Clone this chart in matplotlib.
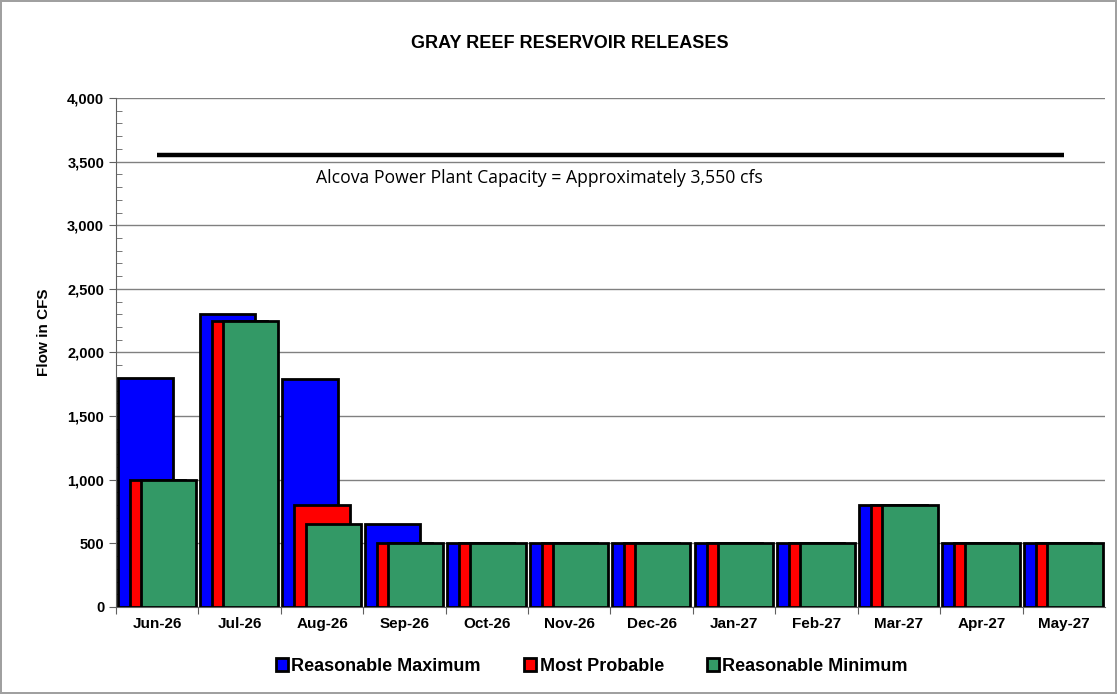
import numpy as np
import matplotlib
matplotlib.use("Agg")
import matplotlib.pyplot as plt
from matplotlib.ticker import MultipleLocator, FuncFormatter

months = ["Jun-26", "Jul-26", "Aug-26", "Sep-26", "Oct-26", "Nov-26",
          "Dec-26", "Jan-27", "Feb-27", "Mar-27", "Apr-27", "May-27"]
reas_max = [1800, 2300, 1790, 655, 500, 500, 500, 500, 500, 800, 500, 500]
most_prob = [1000, 2250, 800, 500, 500, 500, 500, 500, 500, 800, 500, 500]
reas_min = [1000, 2250, 650, 500, 500, 500, 500, 500, 500, 800, 500, 500]
capacity = 3550

plt.rcParams['font.family'] = ['Liberation Sans', 'DejaVu Sans']

fig = plt.figure(figsize=(11.17, 6.94), dpi=100)
fig.patch.set_edgecolor('#a0a0a0')
fig.patch.set_linewidth(1.5)
ax = fig.add_axes([0.1038, 0.1254, 0.8855, 0.7334])

x = np.arange(len(months))
w = 0.67
series = [(reas_max, '#0000FF', 'Reasonable Maximum', 0.02),
          (most_prob, '#FF0000', 'Most Probable', 0.165),
          (reas_min, '#339966', 'Reasonable Minimum', 0.30)]
for vals, col, lab, off in series:
    ax.bar(x + off, vals, width=w, align='edge', color=col, edgecolor='black',
           linewidth=2.0, label=lab, zorder=3)

ax.plot([x[0] + 0.5, x[-1] + 0.5], [capacity, capacity], color='black', lw=3.2,
        solid_capstyle='butt', zorder=4)
ax.text(2.43, capacity - 110, "Alcova Power Plant Capacity = Approximately 3,550 cfs",
        family=['Open Sans', 'DejaVu Sans'], fontsize=12.7, va='top', ha='left')

ax.set_xlim(0, len(months))
ax.set_ylim(0, 4000)
ax.set_xticks(x, minor=False)
ax.set_xticklabels([])
ax.set_xticks(x + 0.5, minor=True)
ax.set_xticklabels(months, minor=True, fontsize=11, fontweight='bold')
ax.tick_params(axis='x', which='minor', length=0, pad=7)
ax.tick_params(axis='x', which='major', length=5, direction='out', color='#606060')
ax.yaxis.set_major_locator(MultipleLocator(500))
ax.yaxis.set_minor_locator(MultipleLocator(100))
ax.yaxis.set_major_formatter(FuncFormatter(lambda v, p: f"{int(v):,}"))
ax.tick_params(axis='y', which='major', direction='out', length=5, labelsize=10.5, color='#606060')
ax.tick_params(axis='y', which='minor', direction='in', length=4, color='#606060')
for t in ax.get_yticklabels():
    t.set_fontweight('bold')
ax.grid(axis='y', color='#808080', lw=1, zorder=0)
for s in ['top', 'right']:
    ax.spines[s].set_visible(False)
ax.spines['left'].set_color('#606060')
ax.spines['bottom'].set_color('#606060')

ax.set_ylabel("Flow in CFS", fontsize=11, fontweight='bold')
ax.yaxis.set_label_coords(-0.066, 0.54)
fig.text(0.51, 0.937, "GRAY REEF RESERVOIR RELEASES", ha='center', va='center',
         fontsize=13, fontweight='bold')

leg = fig.legend(loc='center', bbox_to_anchor=(0.53, 0.04), ncol=3, frameon=False,
                 prop={'weight': 'bold', 'size': 13}, handlelength=0.65,
                 handleheight=0.75, handletextpad=0.2, columnspacing=2.4)

fig.savefig("out.png", dpi=100)
